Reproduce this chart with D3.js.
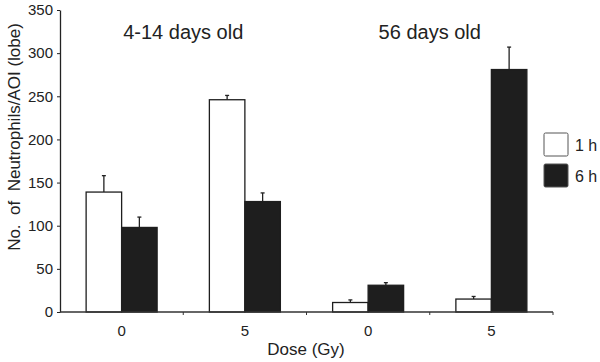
<!DOCTYPE html>
<html>
<head>
<meta charset="utf-8">
<script src="https://cdn.jsdelivr.net/npm/d3@7"></script>
<style>
  body { margin: 0; background: #fff; }
  text { font-family: "Liberation Sans", Arial, sans-serif; fill: #222; }
</style>
</head>
<body>
<div id="chart"></div>
<script>
// data
let groups = ["young-0", "young-5", "adult-0", "adult-5"];
let doseLabels = ["0", "5", "0", "5"];
let ageLabels = ["4-14 days old", "56 days old"];
let series = ["1 h", "6 h"];
let oneHour = [139, 246, 11, 15];
let oneHourErr = [19, 5, 3, 3];
let sixHour = [98, 128, 31, 281];
let sixHourErr = [12, 10, 3, 26];
let yTicks = [0, 50, 100, 150, 200, 250, 300, 350];

let width = 600, height = 362,
  margin = {top: 10, right: 47, bottom: 50, left: 60};

let svg = d3.select("#chart").append("svg")
  .attr("width", width)
  .attr("height", height);

let x0 = d3.scaleBand()
  .domain(groups)
  .range([margin.left, width - margin.right])
  .padding(0);

let x1 = d3.scaleBand()
  .domain(series)
  .range([0, x0.bandwidth()])
  .paddingInner(0)
  .paddingOuter(0.736);

let y = d3.scaleLinear()
  .domain([0, 350])
  .range([height - margin.bottom, margin.top]);

let color = d3.scaleOrdinal().domain(series).range(["#ffffff", "#1e1e1e"]);

let rows = [];
groups.forEach((g, i) => {
  rows.push({group: g, key: "1 h", value: oneHour[i], err: oneHourErr[i]});
  rows.push({group: g, key: "6 h", value: sixHour[i], err: sixHourErr[i]});
});

// y axis
svg.append("g")
  .attr("transform", `translate(${margin.left},0)`)
  .call(d3.axisLeft(y).tickValues(yTicks).tickSize(3).tickSizeOuter(0).tickPadding(4))
  .call(g => g.select(".domain").attr("stroke", "#222").attr("stroke-width", 1.3))
  .call(g => g.selectAll(".tick line").attr("stroke", "#222"))
  .call(g => g.selectAll(".tick text").attr("font-size", 15).attr("font-family", "Liberation Sans, Arial, sans-serif").attr("fill", "#222"));

// error bars (drawn under the bars so only the upper whisker shows)
let bars = svg.append("g");
bars.selectAll("line.err")
  .data(rows)
  .join("line")
  .attr("class", "err")
  .attr("x1", d => x0(d.group) + x1(d.key) + x1.bandwidth() / 2)
  .attr("x2", d => x0(d.group) + x1(d.key) + x1.bandwidth() / 2)
  .attr("y1", d => y(d.value))
  .attr("y2", d => y(d.value + d.err))
  .attr("stroke", "#222")
  .attr("stroke-width", 1.3);

bars.selectAll("line.cap")
  .data(rows)
  .join("line")
  .attr("class", "cap")
  .attr("x1", d => x0(d.group) + x1(d.key) + x1.bandwidth() / 2 - 2)
  .attr("x2", d => x0(d.group) + x1(d.key) + x1.bandwidth() / 2 + 2)
  .attr("y1", d => y(d.value + d.err))
  .attr("y2", d => y(d.value + d.err))
  .attr("stroke", "#222")
  .attr("stroke-width", 1.3);

bars.selectAll("rect")
  .data(rows)
  .join("rect")
  .attr("x", d => x0(d.group) + x1(d.key))
  .attr("y", d => y(d.value))
  .attr("width", x1.bandwidth())
  .attr("height", d => y(0) - y(d.value))
  .attr("fill", d => color(d.key))
  .attr("stroke", "#1e1e1e")
  .attr("stroke-width", 1.3);

// x axis: boundary ticks between groups, labels centred under each group
let xAxis = svg.append("g")
  .attr("transform", `translate(0,${y(0)})`);
xAxis.append("line")
  .attr("x1", margin.left)
  .attr("x2", width - margin.right)
  .attr("stroke", "#333")
  .attr("stroke-width", 1.3);
xAxis.selectAll("line.tick")
  .data(groups)
  .join("line")
  .attr("class", "tick")
  .attr("x1", d => x0(d) + x0.bandwidth())
  .attr("x2", d => x0(d) + x0.bandwidth())
  .attr("y2", 3)
  .attr("stroke", "#333");
xAxis.selectAll("text")
  .data(groups)
  .join("text")
  .attr("x", d => x0(d) + x0.bandwidth() / 2)
  .attr("y", 24)
  .attr("text-anchor", "middle")
  .attr("font-size", 15)
  .text((d, i) => doseLabels[i]);

// age group titles
svg.selectAll("text.age")
  .data(ageLabels)
  .join("text")
  .attr("class", "age")
  .attr("x", (d, i) => x0(groups[i * 2 + 1]))
  .attr("y", 39)
  .attr("text-anchor", "middle")
  .attr("font-size", 20)
  .text(d => d);

// axis titles
svg.append("text")
  .attr("x", 306)
  .attr("y", 355)
  .attr("text-anchor", "middle")
  .attr("font-size", 17)
  .text("Dose (Gy)");

svg.append("text")
  .attr("transform", "translate(20,137) rotate(-90)")
  .attr("text-anchor", "middle")
  .attr("font-size", 17)
  .attr("xml:space", "preserve")
  .text("No.  of  Neutrophils/AOI (lobe)");

// legend
let legend = svg.append("g")
  .attr("transform", "translate(544,133)");
legend.selectAll("rect")
  .data(series)
  .join("rect")
  .attr("y", (d, i) => i * 31)
  .attr("width", 24)
  .attr("height", 23)
  .attr("rx", 1.5)
  .attr("fill", d => color(d))
  .attr("stroke", "#555")
  .attr("stroke-width", 1);
legend.selectAll("text")
  .data(series)
  .join("text")
  .attr("x", 31)
  .attr("y", (d, i) => i * 31 + 18)
  .attr("font-size", 16)
  .text(d => d);
</script>
</body>
</html>
